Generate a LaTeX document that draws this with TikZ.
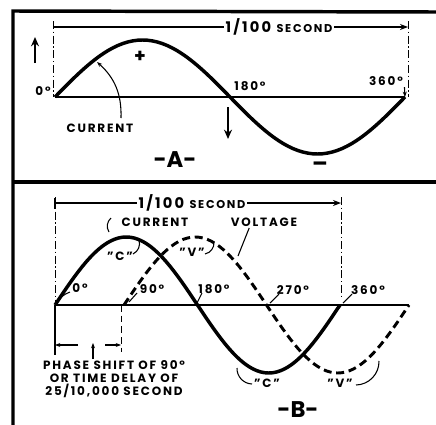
\documentclass[tikz,border=0pt]{standalone}
\usepackage{fontspec}
\setmainfont{Poppins}[LetterSpace=15]
\usetikzlibrary{arrows.meta}

\begin{document}
\begin{tikzpicture}[x=0.75pt,y=-0.75pt,
  every node/.style={font=\bfseries\fontsize{9}{10}\selectfont, inner sep=1pt},
  panel/.style={font=\bfseries\fontsize{17}{17}\selectfont\addfontfeature{LetterSpace=0}},
  frame/.style={line width=2.6pt},
  axis/.style={line width=1pt},
  guide/.style={line width=0.6pt, dash pattern=on 6pt off 2pt on 1pt off 2pt},
  wave/.style={line width=2.6pt},
  volt/.style={line width=2.2pt, dash pattern=on 6pt off 3.5pt},
  pointer/.style={line width=0.8pt, -{Stealth[length=4pt]}},
  tick/.style={line width=0.8pt},
  bigarrow/.style={line width=2pt, -{Stealth[length=7pt,width=6pt]}}]

  \useasboundingbox (0,0) rectangle (436,425);

  % frame
  \coordinate (ftl) at (13,11);
  \coordinate (fbl) at (13,425);
  \coordinate (ftr) at (436,12);
  \coordinate (fml) at (13,182);
  \coordinate (fmr) at (436,182);
  \draw[frame] (fbl) -- (ftl) -- (ftr);
  \draw[frame] (fml) -- (fmr);

  % panel A
  \coordinate (a0) at (55,97);
  \coordinate (a360) at (405,97);
  \draw[axis] (a0) -- (a360);
  \draw[wave] plot[domain=0:360, samples=73] ({55+\x/360*350},{97-57*sin(\x)});

  \coordinate (gal) at (53,21);
  \coordinate (galb) at (53,97);
  \coordinate (gar) at (408,21);
  \coordinate (garb) at (408,97);
  \draw[guide] (gal) -- (galb);
  \draw[guide] (gar) -- (garb);

  \node (secA) at (279,27) {\fontsize{11}{11}\selectfont 1/100 \fontsize{8.5}{9}\selectfont SECOND};
  \coordinate (dal) at (53,27);
  \coordinate (dar) at (408,27);
  \draw[axis] (dal) -- (secA.west);
  \draw[axis, -{Stealth[length=6pt]}] (secA.east) -- (dar);

  \coordinate (upa) at (35,63);
  \coordinate (upb) at (35,37);
  \draw[bigarrow] (upa) -- (upb);
  \coordinate (dna) at (228,107);
  \coordinate (dnb) at (228,139);
  \draw[bigarrow] (dna) -- (dnb);

  \node (a0lbl) at (43,91) {0°};
  \node (plus) at (140,57) {\fontsize{14}{14}\selectfont +};
  \node (a180lbl) at (250,86) {180°};
  \node (a360lbl) at (386,81) {360°};
  \draw[pointer] (a360lbl.south east) -- (a360);

  \node (curA) at (100,128) {CURRENT};
  \coordinate (curAst) at (121,118);
  \coordinate (curApt) at (97,62);
  \draw[pointer] (curAst) to[bend right=25] (curApt);

  \node[panel] (labA) at (175,160) {-A-};
  \node[panel] (minus) at (320,167) {\textendash};

  % panel B
  \coordinate (b0) at (55,305);
  \coordinate (bend) at (409,305);
  \draw[axis] (b0) -- (bend);
  \draw[wave] plot[domain=0:360, samples=73] ({55+\x/360*285},{305-68*sin(\x)});
  \draw[volt] plot[domain=0:360, samples=73] ({124+\x/360*285},{305-68*sin(\x)});

  \coordinate (gbl) at (55,197);
  \coordinate (gblb) at (55,305);
  \coordinate (gbr) at (341,197);
  \coordinate (gbrb) at (341,297);
  \draw[guide] (gbl) -- (gblb);
  \draw[guide] (gbr) -- (gbrb);
  \coordinate (tkt) at (55,198);
  \coordinate (tkb) at (55,209);
  \draw[line width=1.5pt] (tkt) -- (tkb);

  \node (secB) at (192,203) {\fontsize{11}{11}\selectfont 1/100 \fontsize{8.5}{9}\selectfont SECOND};
  \coordinate (dbl) at (55,203);
  \coordinate (dbr) at (341,203);
  \draw[axis] (dbl) -- (secB.west);
  \draw[axis, -{Stealth[length=6pt]}] (secB.east) -- (dbr);

  \node (curB) at (155,222) {CURRENT};
  \coordinate (cmka) at (111,218);
  \coordinate (cmkb) at (109,232);
  \draw[tick] (cmka) to[bend right=40] (cmkb);

  \node (voltB) at (264,222) {VOLTAGE};
  \coordinate (vpt) at (238,256);
  \draw[tick] (voltB.south west) ++(20,0) -- (vpt);

  \node (cupB) at (120,256) {"C"};
  \coordinate (cua) at (133,254);
  \coordinate (cub) at (139,240);
  \draw[tick] (cua) to[bend right=40] (cub);
  \node (vupB) at (192,252) {"V"};
  \coordinate (vua) at (205,254);
  \coordinate (vub) at (214,242);
  \draw[tick] (vua) to[bend right=40] (vub);

  \node (b0lbl) at (80,288) {0°};
  \coordinate (t0a) at (70,292);
  \coordinate (t0b) at (57,303);
  \draw[tick] (t0a) to[bend right=20] (t0b);
  \node (b90lbl) at (152,289) {90°};
  \coordinate (t90a) at (137,293);
  \coordinate (t90b) at (129,302);
  \draw[tick] (t90a) -- (t90b);
  \node (b180lbl) at (214,289) {180°};
  \coordinate (t180a) at (202,293);
  \coordinate (t180b) at (197,303);
  \draw[tick] (t180a) -- (t180b);
  \node (b270lbl) at (293,290) {270°};
  \coordinate (t270a) at (279,294);
  \coordinate (t270b) at (270,303);
  \draw[tick] (t270a) -- (t270b);
  \node (b360lbl) at (368,290) {360°};
  \coordinate (t360a) at (352,294);
  \coordinate (t360b) at (343,303);
  \draw[tick] (t360a) -- (t360b);

  \coordinate (s0t) at (55,305);
  \coordinate (s0b) at (55,355);
  \coordinate (s90t) at (121,305);
  \coordinate (s90b) at (121,352);
  \draw[line width=1.2pt] (s0t) -- (s0b);
  \draw[line width=0.6pt, dash pattern=on 5pt off 3pt] (s90t) -- (s90b);
  \coordinate (pla) at (78,345);
  \coordinate (plb) at (55,345);
  \coordinate (pra) at (105,345);
  \coordinate (prb) at (121,345);
  \draw[pointer] (pla) -- (plb);
  \draw[pointer] (pra) -- (prb);

  \node[align=center, font=\bfseries\fontsize{9}{9.6}\selectfont] (phase) at (114,379)
    {PHASE SHIFT OF 90°\\OR TIME DELAY OF\\25/10,000 SECOND};
  \coordinate (phup) at (93,343);
  \draw[pointer] (phase.north -| phup) -- (phup);

  \node (clowB) at (267,383) {"C"};
  \coordinate (cla) at (237,368);
  \coordinate (clb) at (252,384);
  \draw[tick] (cla) to[bend right=45] (clb);
  \node (vlowB) at (340,383) {"V"};
  \coordinate (vla) at (356,385);
  \coordinate (vlb) at (379,361);
  \draw[tick] (vla) to[bend right=45] (vlb);

  \node[panel] (labB) at (298,410) {-B-};
\end{tikzpicture}
\end{document}
